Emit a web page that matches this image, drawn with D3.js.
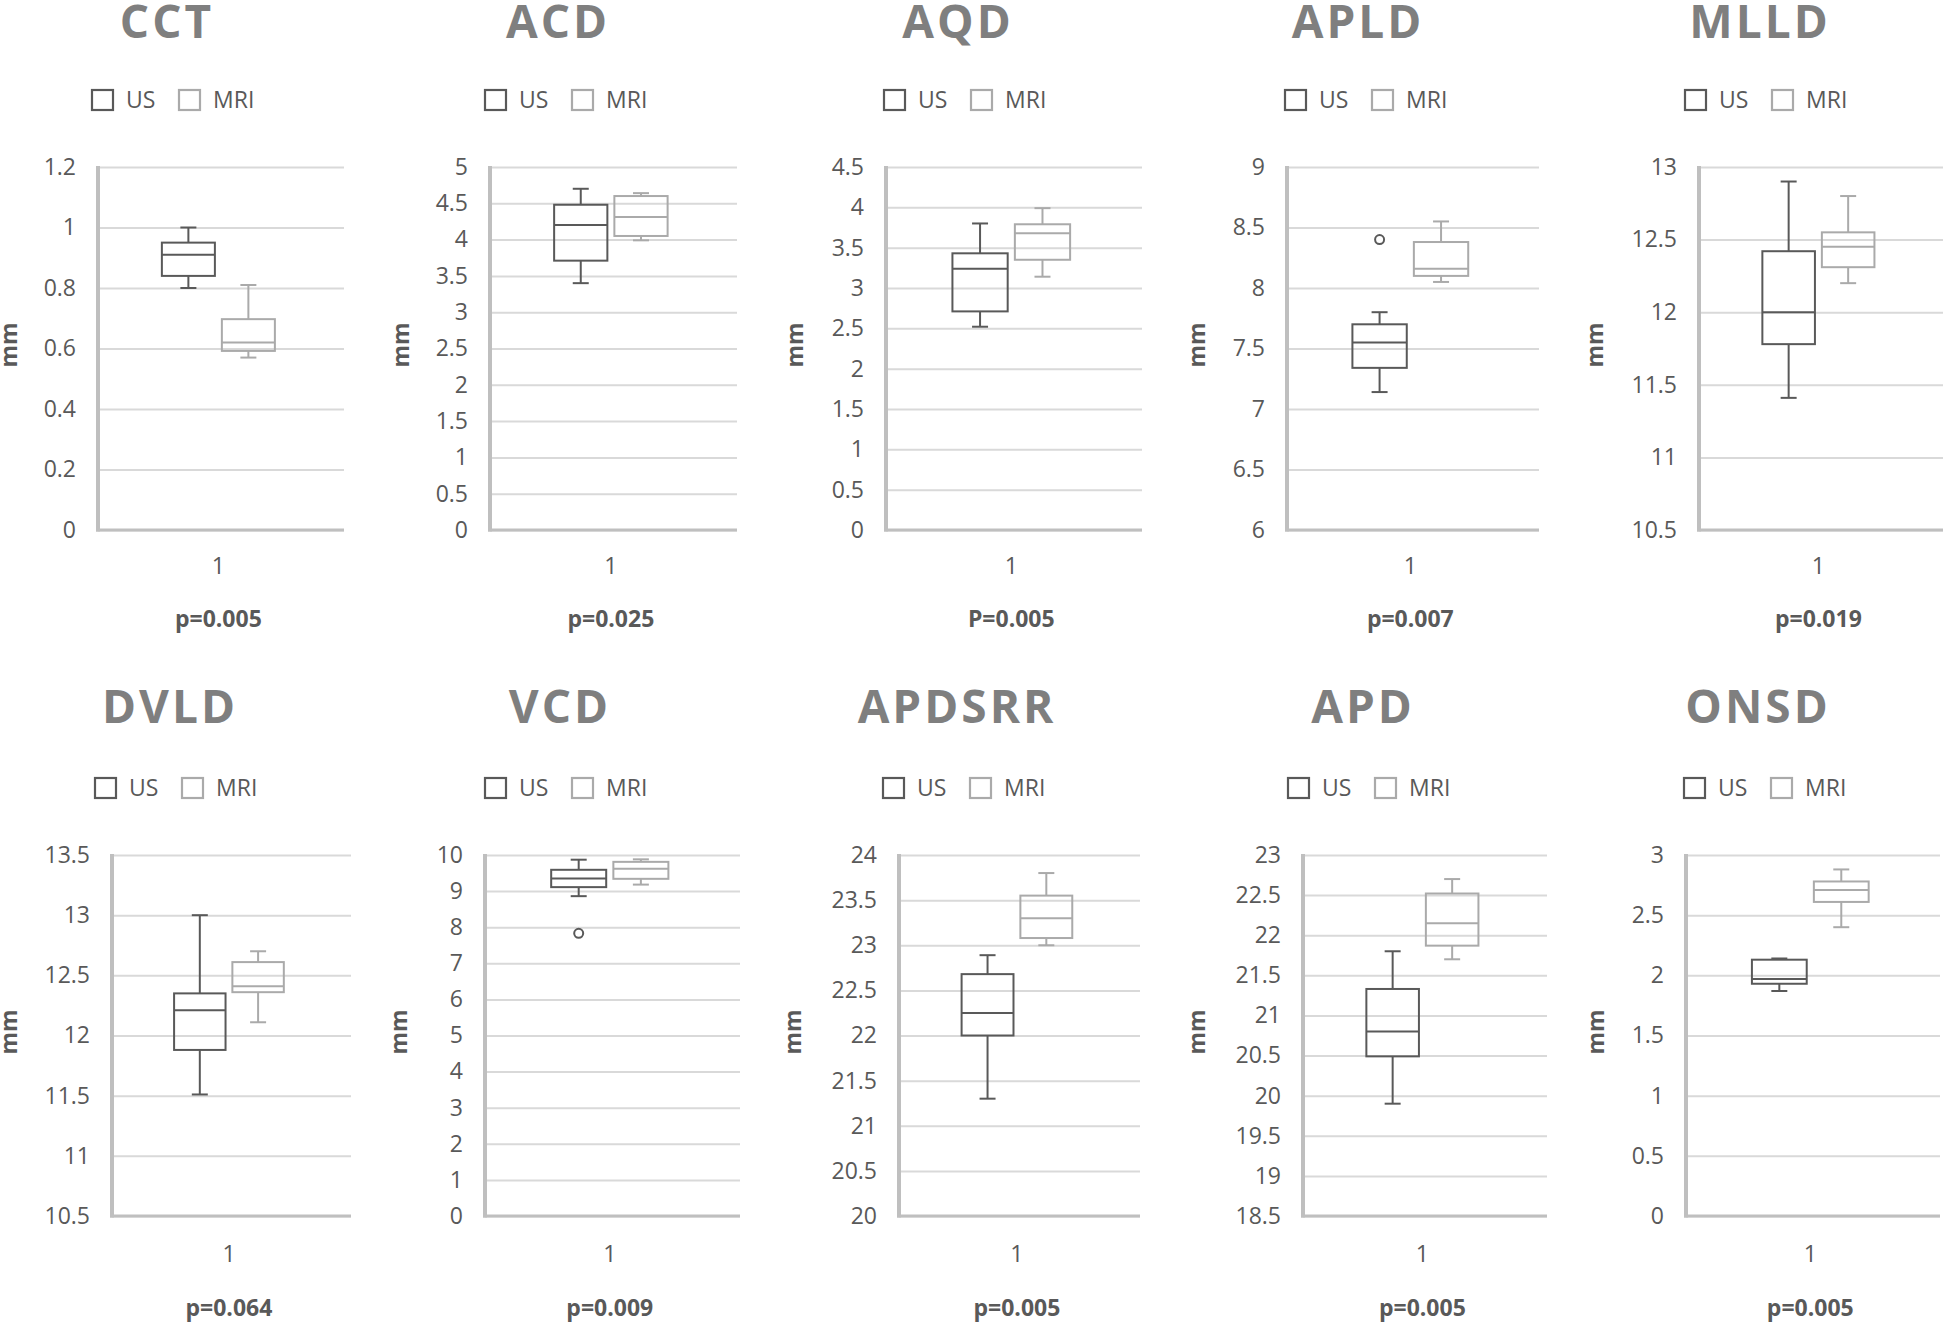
<!DOCTYPE html>
<html>
<head>
<meta charset="utf-8">
<script src="https://cdn.jsdelivr.net/npm/d3@7/dist/d3.min.js"></script>
<style>
  html, body { margin: 0; padding: 0; background: #ffffff; }
  svg { display: block; font-family: "Open Sans", "DejaVu Sans", sans-serif; }
</style>
</head>
<body>
<svg id="chart" width="1943" height="1322"></svg>
<script>
// ---------------- DATA ----------------
const panelNames = ["CCT", "ACD", "AQD", "APLD", "MLLD", "DVLD", "VCD", "APDSRR", "APD", "ONSD"];
const pLabels = ["p=0.005", "p=0.025", "P=0.005", "p=0.007", "p=0.019", "p=0.064", "p=0.009", "p=0.005", "p=0.005", "p=0.005"];
const categories = ["1"];
const seriesNames = ["US", "MRI"];
// [min, Q1, median, Q3, max]
const usStats = [
  [0.80, 0.84, 0.91, 0.95, 1.00],
  [3.40, 3.71, 4.20, 4.48, 4.70],
  [2.52, 2.71, 3.24, 3.43, 3.80],
  [7.14, 7.34, 7.55, 7.70, 7.80],
  [11.41, 11.78, 12.00, 12.42, 12.90],
  [11.51, 11.88, 12.21, 12.35, 13.00],
  [8.86, 9.11, 9.35, 9.59, 9.87],
  [21.30, 22.00, 22.25, 22.68, 22.89],
  [19.90, 20.49, 20.80, 21.33, 21.80],
  [1.87, 1.93, 1.97, 2.13, 2.14]
];
const mriStats = [
  [0.57, 0.592, 0.62, 0.697, 0.81],
  [3.99, 4.05, 4.31, 4.60, 4.64],
  [3.14, 3.35, 3.68, 3.79, 3.99],
  [8.05, 8.10, 8.16, 8.38, 8.55],
  [12.20, 12.31, 12.45, 12.55, 12.80],
  [12.11, 12.36, 12.41, 12.61, 12.70],
  [9.18, 9.34, 9.62, 9.81, 9.88],
  [23.00, 23.08, 23.30, 23.55, 23.80],
  [21.70, 21.87, 22.15, 22.52, 22.70],
  [2.40, 2.61, 2.71, 2.78, 2.88]
];
const usOutliers = [[], [], [], [8.40], [], [], [7.83], [], [], []];
const mriOutliers = [[], [], [], [], [], [], [], [], [], []];
const yMin = [0, 0, 0, 6, 10.5, 10.5, 0, 20, 18.5, 0];
const yMax = [1.2, 5, 4.5, 9, 13, 13.5, 10, 24, 23, 3];
const yStep = [0.2, 0.5, 0.5, 0.5, 0.5, 0.5, 1, 0.5, 0.5, 0.5];
const yAxisLabel = "mm";

// ---------------- LAYOUT ----------------
const plotLeft  = [98, 490, 886, 1287, 1699, 112, 485, 899, 1303, 1686];
const plotRight = [344, 737, 1142, 1539, 1943, 351, 740, 1140, 1547, 1940];
const titleX    = [167, 558, 958, 1358, 1760, 170, 560, 957, 1363, 1758];
const legendX   = [91, 484, 883, 1284, 1684, 94, 484, 882, 1287, 1683];
const mmX       = [9, 401, 795, 1197, 1595, 9, 399, 793, 1197, 1596];
const rowTop     = [167, 855];
const rowBottom  = [530, 1216];
const rowTitleY  = [38, 723];
const rowLegendY = [89, 777];
const rowMmY     = [345, 1032];
const rowXGap    = [28, 30];
const rowPY      = [627, 1316];

const colors = { US: "#595959", MRI: "#aaaaaa" };
const textColor = "#595959";
const titleColor = "#7f7f7f";
const gridColor = "#d9d9d9";
const axisColor = "#bfbfbf";

const svg = d3.select("#chart");
svg.append("rect").attr("width", 1943).attr("height", 1322).attr("fill", "#ffffff");

panelNames.forEach((name, i) => {
  const row = i < 5 ? 0 : 1;
  const left = plotLeft[i], right = plotRight[i];
  const top = rowTop[row], bottom = rowBottom[row];
  const g = svg.append("g").attr("class", "panel");

  // title
  g.append("text")
    .attr("x", titleX[i]).attr("y", rowTitleY[row])
    .attr("text-anchor", "middle")
    .attr("font-size", 46).attr("font-weight", 700)
    .attr("letter-spacing", 3)
    .attr("fill", titleColor)
    .text(name);

  // legend
  const lg = g.append("g").attr("transform", `translate(${legendX[i]},${rowLegendY[row]})`);
  const legendOffsets = [0, 87];
  seriesNames.forEach((s, k) => {
    lg.append("rect")
      .attr("x", legendOffsets[k] + 1).attr("y", 1)
      .attr("width", 21).attr("height", 20)
      .attr("fill", "#ffffff").attr("stroke", colors[s]).attr("stroke-width", 2.2);
    lg.append("text")
      .attr("x", legendOffsets[k] + 35).attr("y", 11)
      .attr("dy", "0.36em")
      .attr("font-size", 23).attr("fill", textColor)
      .text(s);
  });

  // scales
  const y = d3.scaleLinear().domain([yMin[i], yMax[i]]).range([bottom, top]);
  const nTicks = Math.round((yMax[i] - yMin[i]) / yStep[i]);
  const ticks = d3.range(nTicks + 1).map(k => +(yMin[i] + k * yStep[i]).toFixed(2));
  const x0 = d3.scaleBand().domain(categories).range([left, right])
    .paddingInner(0).paddingOuter(0.5695).align(0.48);
  const x1 = d3.scaleBand().domain(seriesNames).range([0, x0.bandwidth()]).paddingInner(0.083);

  // y axis with gridlines
  const yAxis = d3.axisLeft(y).tickValues(ticks).tickSize(-(right - left)).tickPadding(22)
    .tickFormat(d => String(d));
  const ya = g.append("g").attr("transform", `translate(${left},0)`).call(yAxis);
  ya.select(".domain").remove();
  ya.selectAll(".tick line").attr("stroke", gridColor).attr("stroke-width", 2);
  ya.selectAll(".tick text").attr("font-size", 23).attr("fill", textColor)
    .attr("font-family", "'Open Sans', sans-serif");

  // bottom axis
  const xAxis = d3.axisBottom(x0).tickSize(0).tickPadding(rowXGap[row]);
  const xa = g.append("g").attr("transform", `translate(0,${bottom})`).call(xAxis);
  xa.select(".domain").remove();
  xa.selectAll(".tick text").attr("font-size", 23).attr("fill", textColor)
    .attr("font-family", "'Open Sans', sans-serif");
  g.append("line")
    .attr("x1", left - 2).attr("x2", right)
    .attr("y1", y(yMin[i])).attr("y2", y(yMin[i]))
    .attr("stroke", axisColor).attr("stroke-width", 3);
  // left axis line
  g.append("line")
    .attr("x1", left).attr("x2", left)
    .attr("y1", y(yMax[i]) - 1).attr("y2", y(yMin[i]) + 1.5)
    .attr("stroke", axisColor).attr("stroke-width", 4);

  // axis title
  g.append("text")
    .attr("transform", `translate(${mmX[i]},${rowMmY[row]}) rotate(-90)`)
    .attr("text-anchor", "middle").attr("dy", "0.36em")
    .attr("font-size", 23).attr("font-weight", 700).attr("fill", textColor)
    .text(yAxisLabel);

  // p label
  g.append("text")
    .attr("x", x0(categories[0]) + x0.bandwidth() / 2 + (x0.step() - x0.bandwidth()) * 0.02)
    .attr("y", rowPY[row])
    .attr("text-anchor", "middle")
    .attr("font-size", 23).attr("font-weight", 700).attr("fill", textColor)
    .text(pLabels[i]);

  // boxes
  const series = [
    { name: "US", stats: usStats[i], out: usOutliers[i] },
    { name: "MRI", stats: mriStats[i], out: mriOutliers[i] }
  ];
  const capW = 16;
  series.forEach(s => {
    const [mn, q1, md, q3, mx] = s.stats;
    const bx = x0(categories[0]) + x1(s.name);
    const bw = x1.bandwidth();
    const cx = bx + bw / 2;
    const col = colors[s.name];
    const bg = g.append("g").attr("stroke", col).attr("stroke-width", 2).attr("fill", "none");
    // whiskers
    bg.append("line").attr("x1", cx).attr("x2", cx).attr("y1", y(mx)).attr("y2", y(q3));
    bg.append("line").attr("x1", cx).attr("x2", cx).attr("y1", y(q1)).attr("y2", y(mn));
    bg.append("line").attr("x1", cx - capW / 2).attr("x2", cx + capW / 2).attr("y1", y(mx)).attr("y2", y(mx));
    bg.append("line").attr("x1", cx - capW / 2).attr("x2", cx + capW / 2).attr("y1", y(mn)).attr("y2", y(mn));
    // box
    bg.append("rect").attr("x", bx + 1).attr("y", y(q3))
      .attr("width", bw - 2).attr("height", y(q1) - y(q3));
    // median
    bg.append("line").attr("x1", bx + 1).attr("x2", bx + bw - 1).attr("y1", y(md)).attr("y2", y(md));
    // outliers
    s.out.forEach(o => {
      bg.append("circle").attr("cx", cx).attr("cy", y(o)).attr("r", 4.5).attr("fill", "#ffffff");
    });
  });
});
</script>
</body>
</html>
